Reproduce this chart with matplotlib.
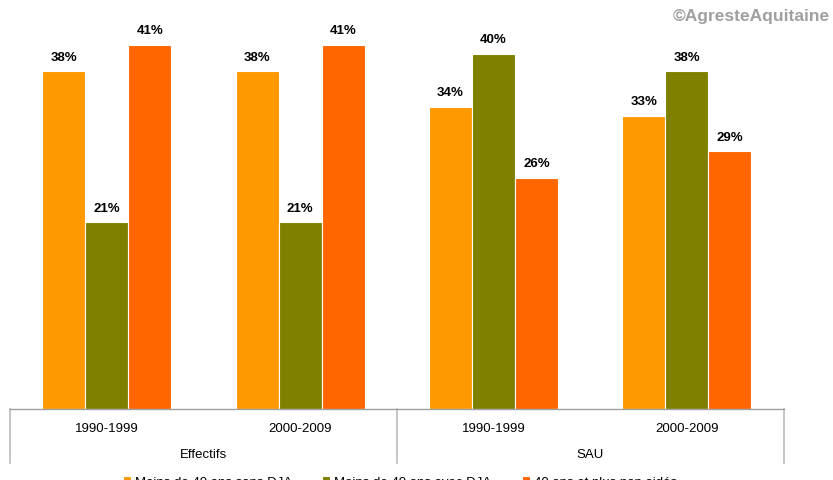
import matplotlib
matplotlib.use("Agg")
import matplotlib.pyplot as plt
import matplotlib.transforms as mtransforms
import numpy as np

plt.rcParams['font.family'] = ['Liberation Sans', 'DejaVu Sans']

periods = ["1990-1999", "2000-2009", "1990-1999", "2000-2009"]
groups = ["Effectifs", "SAU"]
series_names = ["Moins de 40 ans sans DJA", "Moins de 40 ans avec DJA", "40 ans et plus non aidés"]
sans_dja = [38, 38, 34, 33]
avec_dja = [21, 21, 40, 38]
plus_40 = [41, 41, 26, 29]
colors = ["#FF9900", "#808000", "#FF6600"]

W, H = 833, 481
fig = plt.figure(figsize=(W / 100, H / 100), dpi=100)
left, right, base = 10, 783.7, 410
ax = fig.add_axes([left / W, 1 - base / H, (right - left) / W, base / H])

x = np.arange(len(periods))
bw = 0.2223
handles = []
for i, (vals, c) in enumerate(zip([sans_dja, avec_dja, plus_40], colors)):
    bars = ax.bar(x + (i - 1) * bw, vals, bw, color=c, edgecolor='white', linewidth=0.8,
                  label=series_names[i])
    handles.append(bars)
    for xi, v in zip(x + (i - 1) * bw, vals):
        ax.annotate(f"{v}%", (xi, v), xytext=(0, 10.5), textcoords='offset points',
                    ha='center', va='center', fontsize=9.5, fontweight='bold', color='#000000')

ax.set_xlim(-0.5, 3.5)
ax.set_ylim(0, base / 8.886)
for s in ['top', 'right', 'left']:
    ax.spines[s].set_visible(False)
ax.spines['bottom'].set_color('#A0A0A0')
ax.spines['bottom'].set_linewidth(1.0)
ax.set_xticks([])
ax.set_yticks([])

trans = mtransforms.blended_transform_factory(ax.transData, ax.transAxes)
sep_depth = (464 - base) / base
for xs in [-0.5, 1.5, 3.5]:
    ax.plot([xs, xs], [0, -sep_depth], transform=trans, color='#BBBBBB', lw=1.2, clip_on=False)

for xi, p in zip(x, periods):
    fig.text((left + (xi + 0.5) * (right - left) / 4) / W, 1 - 429 / H, p,
             ha='center', va='center', fontsize=9.5)
for gi, g in enumerate(groups):
    fig.text((left + (gi * 2 + 1) * (right - left) / 4) / W, 1 - 455 / H, g,
             ha='center', va='center', fontsize=9.5)

fig.text(830 / W, 1 - 16 / H, "©AgresteAquitaine", ha='right', va='center',
         fontsize=12.5, fontweight='bold', color='#A0A0A0')

fig.legend(handles=handles, labels=series_names, loc='center', ncol=3,
           bbox_to_anchor=(400 / W, 1 - 483 / H), frameon=False, fontsize=9.5,
           handlelength=0.6, handleheight=0.6, handletextpad=0.3, columnspacing=2.3,
           borderpad=0)

fig.savefig("out.png", dpi=100)
